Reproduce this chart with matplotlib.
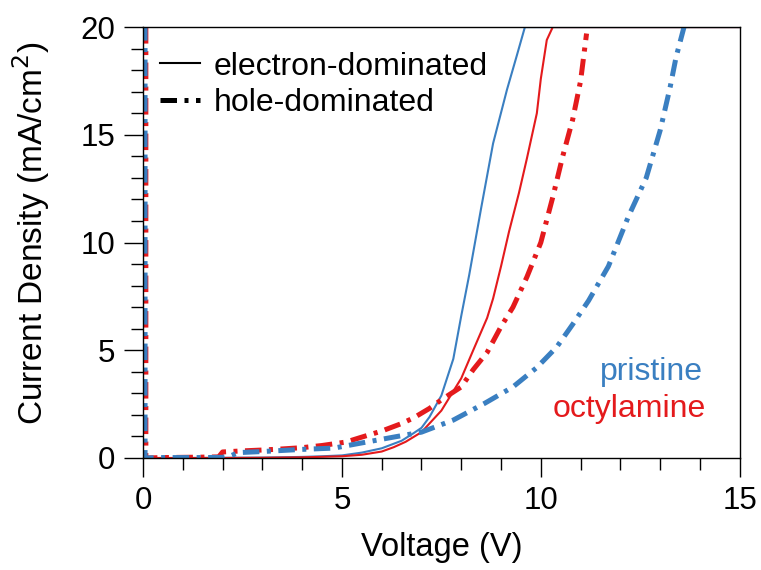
import matplotlib
matplotlib.use('Agg')
import matplotlib.pyplot as plt
from matplotlib.lines import Line2D
from matplotlib.ticker import MultipleLocator

plt.rcParams['font.family'] = ['Liberation Sans', 'DejaVu Sans']

BLUE = '#3a7fc1'
RED = '#e41a1c'

# pristine, electron-dominated
v_pe = [0, 0.5, 1, 2, 3, 4, 4.5, 5, 5.5, 6, 6.5, 6.8, 7.0, 7.2, 7.5, 7.8,
        8.0, 8.2, 8.5, 8.8, 9.15, 9.4, 9.6, 15]
j_pe = [0, 0, 0, 0.01, 0.02, 0.05, 0.08, 0.12, 0.25, 0.45, 0.8, 1.15, 1.4, 1.9,
        2.9, 4.6, 6.6, 8.5, 11.6, 14.6, 17.1, 18.7, 20, 20]

# octylamine, electron-dominated
v_oe = [0, 1, 2, 3, 4, 5, 5.5, 6, 6.3, 6.6, 7.0, 7.5, 8.0, 8.3, 8.65, 8.8,
        9.0, 9.2, 9.45, 9.65, 9.9, 10.0, 10.15, 10.3, 15]
j_oe = [0, 0, 0, 0.01, 0.03, 0.08, 0.15, 0.3, 0.5, 0.75, 1.2, 2.2, 3.7, 5.0,
        6.5, 7.4, 8.9, 10.5, 12.3, 13.9, 16.0, 17.6, 19.4, 20, 20]

# octylamine, hole-dominated
v_oh = [0.07, 0.07, 0.5, 1, 1.5, 1.9, 2.0, 2.5, 3.0, 3.5, 4.0, 4.5, 5.1, 5.5,
        6.0, 6.5, 6.8, 7.2, 7.5, 8.0, 8.3, 8.65, 9.0, 9.3, 9.65, 10.0, 10.3,
        10.55, 10.8, 11.0, 11.15]
j_oh = [20, 0, 0.02, 0.03, 0.04, 0.05, 0.28, 0.33, 0.37, 0.42, 0.48, 0.58,
        0.74, 0.97, 1.25, 1.6, 1.86, 2.3, 2.7, 3.3, 4.1, 4.9, 6.1, 7.0, 8.4,
        10.0, 12.1, 14.0, 15.7, 17.5, 19.7]

# pristine, hole-dominated
v_ph = [0.05, 0.05, 0.5, 1, 1.5, 2.0, 2.2, 2.4, 3.0, 3.5, 4.0, 4.8, 5.5, 6.3,
        7.0, 7.8, 8.6, 9.3, 9.9, 10.4, 10.8, 11.2, 11.7, 12.2, 12.65, 13.0,
        13.25, 13.4, 13.6]
j_ph = [20, 0, 0.02, 0.02, 0.02, 0.03, 0.1, 0.25, 0.3, 0.35, 0.4, 0.46, 0.7,
        0.97, 1.2, 1.76, 2.55, 3.3, 4.2, 5.15, 6.2, 7.3, 8.9, 11.2, 13.0,
        15.2, 17.2, 18.6, 20]

dashdot = (0, (3.3, 1.5, 0.8, 1.5))

fig = plt.figure(figsize=(7.61, 5.70), dpi=100)
ax = fig.add_axes([0.188, 0.1965, 0.784, 0.756])

ax.plot(v_pe, j_pe, color=BLUE, lw=1.5)
ax.plot(v_oe, j_oe, color=RED, lw=1.5)
ax.plot(v_oh, j_oh, color=RED, lw=3.6, ls=dashdot, dash_capstyle='butt')
ax.plot(v_ph, j_ph, color=BLUE, lw=3.6, ls=(0.6, (3.3, 1.5, 0.8, 1.5)),
        dash_capstyle='butt')

ax.set_xlim(0, 15)
ax.set_ylim(0, 20)
ax.xaxis.set_major_locator(MultipleLocator(5))
ax.xaxis.set_minor_locator(MultipleLocator(1))
ax.yaxis.set_major_locator(MultipleLocator(5))
ax.yaxis.set_minor_locator(MultipleLocator(1))
ax.tick_params(which='major', direction='out', length=14, width=1,
               labelsize=22.5, pad=6)
ax.tick_params(which='minor', direction='out', length=8.5, width=1)
for s in ax.spines.values():
    s.set_linewidth(1)

ax.set_xlabel('Voltage (V)', fontsize=23.5, labelpad=12)
ax.set_ylabel('Current Density (mA/cm$^2$)', fontsize=24)
ax.yaxis.set_label_coords(-0.152, 0.521)

handles = [Line2D([], [], color='black', lw=1.5),
           Line2D([], [], color='black', lw=3.6, ls=dashdot, dash_capstyle='butt')]
ax.legend(handles, ['electron-dominated', 'hole-dominated'], loc='upper left',
          bbox_to_anchor=(0.028, 0.943), frameon=False, fontsize=23,
          borderpad=0, borderaxespad=0, handlelength=1.25,
          handletextpad=0.45, labelspacing=0.2)

ax.text(0.938, 0.2, 'pristine', color=BLUE, fontsize=23, ha='right',
        va='center', transform=ax.transAxes)
ax.text(0.943, 0.114, 'octylamine', color=RED, fontsize=23, ha='right',
        va='center', transform=ax.transAxes)

fig.savefig('out.png', dpi=100)
